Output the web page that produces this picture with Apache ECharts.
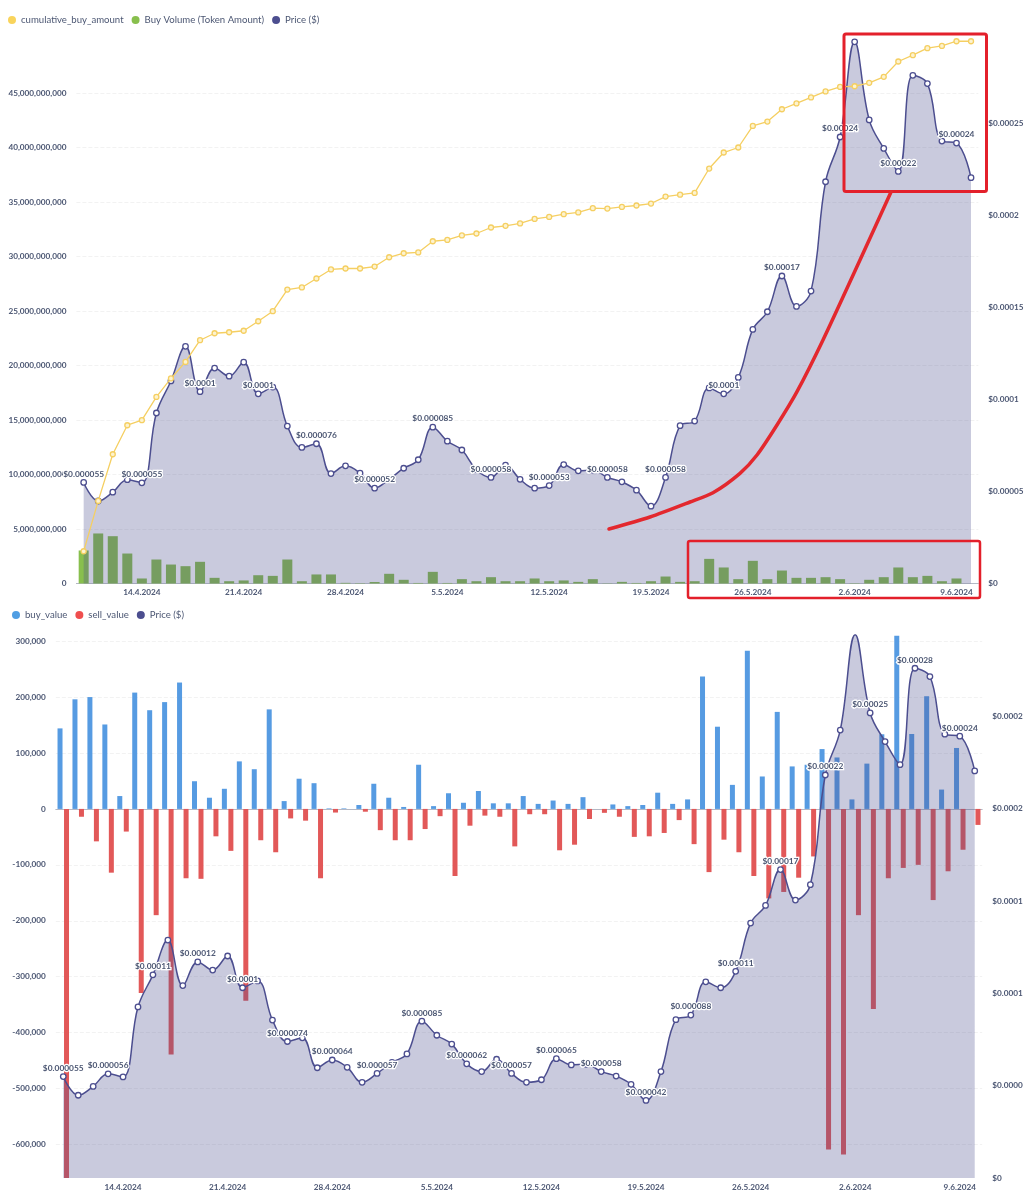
<!DOCTYPE html>
<html>
<head>
	<meta charset="utf-8">
	<title>Buy volume and price</title>
	<style>
		html, body { margin: 0; padding: 0; background: #fff; }
		#chart { width: 1030px; height: 1200px; }
	</style>
</head>
<body>
<div id="chart"></div>
<script src="https://cdn.jsdelivr.net/npm/echarts@6/dist/echarts.min.js"></script>
<script type="text/javascript">
var dates = ['10.4.2024','11.4.2024','12.4.2024','13.4.2024','14.4.2024','15.4.2024','16.4.2024','17.4.2024','18.4.2024','19.4.2024','20.4.2024','21.4.2024','22.4.2024','23.4.2024','24.4.2024','25.4.2024','26.4.2024','27.4.2024','28.4.2024','29.4.2024','30.4.2024','1.5.2024','2.5.2024','3.5.2024','4.5.2024','5.5.2024','6.5.2024','7.5.2024','8.5.2024','9.5.2024','10.5.2024','11.5.2024','12.5.2024','13.5.2024','14.5.2024','15.5.2024','16.5.2024','17.5.2024','18.5.2024','19.5.2024','20.5.2024','21.5.2024','22.5.2024','23.5.2024','24.5.2024','25.5.2024','26.5.2024','27.5.2024','28.5.2024','29.5.2024','30.5.2024','31.5.2024','1.6.2024','2.6.2024','3.6.2024','4.6.2024','5.6.2024','6.6.2024','7.6.2024','8.6.2024','9.6.2024','10.6.2024'];

// price in $, same series in both charts
var price = [0.0000549,0.0000448,0.0000496,0.0000564,0.0000547,0.0000926,0.000110,0.0001288,0.0001042,0.000117,0.0001126,0.0001202,0.000103,0.0001067,0.0000855,0.0000739,0.0000759,0.0000597,0.0000639,0.0000599,0.0000518,0.0000566,0.0000626,0.0000672,0.0000849,0.0000773,0.0000725,0.0000618,0.0000576,0.0000643,0.0000566,0.0000518,0.0000532,0.0000646,0.0000612,0.0000616,0.0000576,0.0000552,0.0000507,0.000042,0.0000576,0.0000857,0.0000882,0.0001062,0.000103,0.0001119,0.000138,0.0001476,0.000167,0.0001505,0.0001588,0.0002182,0.0002425,0.0002942,0.0002518,0.0002363,0.0002238,0.000276,0.0002715,0.0002403,0.0002392,0.0002204];

var cumulativeBuy = [2.96e9,7.58e9,11.86e9,14.52e9,14.98e9,17.12e9,18.81e9,20.33e9,22.32e9,22.96e9,23.05e9,23.19e9,24.06e9,24.98e9,26.97e9,27.16e9,27.98e9,28.81e9,28.90e9,28.90e9,29.08e9,29.93e9,30.30e9,30.37e9,31.40e9,31.52e9,31.93e9,32.11e9,32.66e9,32.81e9,33.03e9,33.45e9,33.63e9,33.88e9,34.04e9,34.43e9,34.40e9,34.55e9,34.68e9,34.86e9,35.50e9,35.67e9,35.83e9,38.07e9,39.54e9,40.00e9,41.98e9,42.38e9,43.51e9,44.04e9,44.59e9,45.14e9,45.56e9,45.62e9,45.93e9,46.48e9,47.89e9,48.47e9,49.11e9,49.32e9,49.75e9,49.75e9];

var buyVolume = [3.03e9,4.59e9,4.34e9,2.75e9,0.46e9,2.2e9,1.74e9,1.59e9,1.99e9,0.52e9,0.21e9,0.28e9,0.76e9,0.7e9,2.2e9,0.21e9,0.83e9,0.83e9,0.06e9,0.03e9,0.14e9,0.89e9,0.34e9,0.05e9,1.07e9,0.05e9,0.4e9,0.21e9,0.58e9,0.21e9,0.21e9,0.46e9,0.21e9,0.28e9,0.15e9,0.4e9,0.02e9,0.15e9,0.05e9,0.21e9,0.64e9,0.15e9,0.21e9,2.26e9,1.47e9,0.4e9,2.08e9,0.4e9,1.19e9,0.52e9,0.52e9,0.58e9,0.4e9,0.03e9,0.34e9,0.58e9,1.47e9,0.58e9,0.7e9,0.21e9,0.46e9,0];

var buyValue = [144000,196000,200000,151000,23000,208000,176500,191000,226000,49500,20000,36000,85000,71000,178000,14000,54000,46000,1000,1000,7000,45000,20000,3500,79000,5000,28000,11000,32000,10000,10000,23000,9000,15000,9000,21000,0,8000,5000,7000,29000,9000,17000,237000,147000,43000,283000,58000,173500,76000,79000,107000,92000,17000,81000,133500,309500,134000,201500,34600,109000,0];

var sellValue = [-660000,-14000,-58000,-114000,-40500,-329000,-190000,-439000,-124000,-125000,-49000,-75000,-343000,-56000,-77500,-17000,-21000,-124000,-6500,0,-5000,-38000,-56000,-56000,-36000,-13000,-120000,-30000,-12000,-14000,-67000,-9500,-9500,-74000,-64000,-18000,-7000,-14000,-50000,-49000,-43000,-20000,-63000,-113000,-55000,-77500,-120000,-160000,-148500,-123000,-85000,-609000,-618000,-190000,-358000,-124000,-105500,-100000,-163000,-111500,-73000,-28600];

var topPriceTicks = ['$0','$0.00005','$0.0001','$0.00015','$0.0002','$0.00025'];
var bottomPriceTicks = ['$0','$0.0000','$0.0001','$0.0001','$0.0002','$0.0002'];

var textColor = '#4C5773';
var priceColor = '#4C4E8F';
var gridColor = '#F2F2F2';
var fontName = 'Lato';

function priceLabel(v) {
	return '$' + Number(v.toPrecision(2));
}

function xAxisFor(gridIndex) {
	return {
		type: 'category',
		gridIndex: gridIndex,
		data: dates,
		axisTick: { show: false },
		axisLine: { lineStyle: { color: '#B4B8C4', width: 1 } },
		axisLabel: {
			color: textColor, fontFamily: fontName, fontSize: 8.2, fontWeight: 700, margin: 5,
			hideOverlap: false,
			interval: function (i) { return (i - 4) % 7 === 0; }
		}
	};
}

function valueAxisLabel(extra) {
	return Object.assign({
		color: textColor, fontFamily: fontName, fontSize: 8.2, fontWeight: 700, margin: 10,
		showMaxLabel: false
	}, extra);
}

function priceSeries(xIdx, yIdx, every) {
	return {
		name: 'Price ($)',
		type: 'line',
		xAxisIndex: xIdx,
		yAxisIndex: yIdx,
		data: price,
		z: 3,
		smooth: 0.4,
		symbol: 'circle',
		symbolSize: 5.5,
		showAllSymbol: true,
		itemStyle: { color: '#fff', borderColor: priceColor, borderWidth: 1.3 },
		lineStyle: { color: priceColor, width: 1.5 },
		areaStyle: { color: priceColor, opacity: 0.3 },
		label: {
			show: true,
			position: 'top',
			distance: 1,
			color: textColor,
			fontFamily: fontName,
			fontSize: 8.4,
			fontWeight: 700,
			textBorderColor: '#fff',
			textBorderWidth: 2.5,
			formatter: function (p) {
				return p.dataIndex % every === 0 ? priceLabel(p.value) : '';
			}
		}
	};
}

var chart = echarts.init(document.getElementById('chart'), null, { renderer: 'canvas' });
chart.setOption({
	animation: false,
	backgroundColor: '#fff',
	textStyle: { fontFamily: fontName },
	legend: [
		{
			left: 3, top: 10, itemWidth: 8, itemHeight: 8, itemGap: 8, icon: 'circle',
			textStyle: { color: textColor, fontFamily: fontName, fontSize: 9.6 },
			data: [
				{ name: 'cumulative_buy_amount', itemStyle: { color: '#F9D45C', borderWidth: 0 } },
				{ name: 'Buy Volume (Token Amount)', itemStyle: { color: '#88BF4D' } },
				{ name: 'Price ($)', itemStyle: { color: priceColor, borderWidth: 0 } }
			]
		},
		{
			left: 7, top: 605, itemWidth: 8, itemHeight: 8, itemGap: 8, icon: 'circle',
			textStyle: { color: textColor, fontFamily: fontName, fontSize: 9.6 },
			data: [
				{ name: 'buy_value', itemStyle: { color: '#509EE3' } },
				{ name: 'sell_value', itemStyle: { color: '#EF4E4E' } },
				{ name: 'Price ($)', itemStyle: { color: priceColor, borderWidth: 0 } }
			]
		}
	],
	grid: [
		{ left: 76.4, width: 901.9, top: 38.5, height: 545, outerBoundsMode: 'none' },
		{ left: 55.8, width: 926.4, top: 635, height: 543, outerBoundsMode: 'none' }
	],
	xAxis: [xAxisFor(0), xAxisFor(1)],
	yAxis: [
		{
			type: 'value', gridIndex: 0, min: 0, max: 50000000000, interval: 5000000000,
			axisLine: { show: false }, axisTick: { show: false },
			axisLabel: valueAxisLabel({ formatter: function (v) { return v.toLocaleString('en-US'); } }),
			splitLine: { showMaxLine: false, lineStyle: { color: gridColor, type: 'dashed' } }
		},
		{
			type: 'value', gridIndex: 0, min: 0, max: 0.000296, interval: 0.00005, position: 'right',
			axisLine: { show: false }, axisTick: { show: false },
			axisLabel: valueAxisLabel({ formatter: function (v) { return topPriceTicks[Math.round(v / 0.00005)] || ''; } }),
			splitLine: { show: false }
		},
		{
			type: 'value', gridIndex: 1, min: -660000, max: 311000, splitNumber: 10,
			axisLine: { show: false }, axisTick: { show: false },
			axisLabel: valueAxisLabel({ showMinLabel: false, formatter: function (v) { return v.toLocaleString('en-US'); } }),
			splitLine: { showMinLine: false, showMaxLine: false, lineStyle: { color: gridColor, type: 'dashed' } }
		},
		{
			type: 'value', gridIndex: 1, min: 0, max: 0.000294, interval: 0.00005, position: 'right',
			axisLine: { show: false }, axisTick: { show: false },
			axisLabel: valueAxisLabel({ formatter: function (v) { return bottomPriceTicks[Math.round(v / 0.00005)] || ''; } }),
			splitLine: { show: false }
		}
	],
	series: [
		{
			name: 'Buy Volume (Token Amount)', type: 'bar', xAxisIndex: 0, yAxisIndex: 0, z: 2,
			data: buyVolume, barWidth: 10, itemStyle: { color: '#88BF4D' }
		},
		priceSeries(0, 1, 4),
		{
			name: 'cumulative_buy_amount', type: 'line', xAxisIndex: 0, yAxisIndex: 0, z: 4,
			data: cumulativeBuy, symbol: 'circle', symbolSize: 5, showAllSymbol: true,
			itemStyle: { color: '#FDF3CF', borderColor: '#F5CF62', borderWidth: 1.3 },
			lineStyle: { color: '#F5CF62', width: 1.3 }
		},
		{
			name: 'buy_value', type: 'bar', xAxisIndex: 1, yAxisIndex: 2, z: 2,
			data: buyValue, barWidth: 5, barGap: '30%', itemStyle: { color: '#569BE2' }
		},
		{
			name: 'sell_value', type: 'bar', xAxisIndex: 1, yAxisIndex: 2, z: 2,
			data: sellValue, barWidth: 5, barGap: '30%', itemStyle: { color: '#E25858' }
		},
		priceSeries(1, 3, 3)
	],
	// hand drawn red annotations on the top chart
	graphic: [
		{
			type: 'rect', z: 100,
			shape: { x: 844, y: 34, width: 142.5, height: 157.5, r: 2 },
			style: { fill: 'none', stroke: '#E3202B', lineWidth: 3 }
		},
		{
			type: 'rect', z: 100,
			shape: { x: 688, y: 541, width: 292, height: 57, r: 2 },
			style: { fill: 'none', stroke: '#E3202B', lineWidth: 2.5 }
		},
		{
			type: 'polyline', z: 100,
			shape: {
				points: [[609, 529], [650, 517], [690, 502], [713, 492.7], [740, 473.3], [757, 455], [777, 425], [797, 391.7], [823, 340], [860, 260], [891, 192]],
				smooth: 0.25
			},
			style: { fill: 'none', stroke: '#E3282E', lineWidth: 3.5, lineCap: 'round' }
		}
	]
});
</script>
</body>
</html>
